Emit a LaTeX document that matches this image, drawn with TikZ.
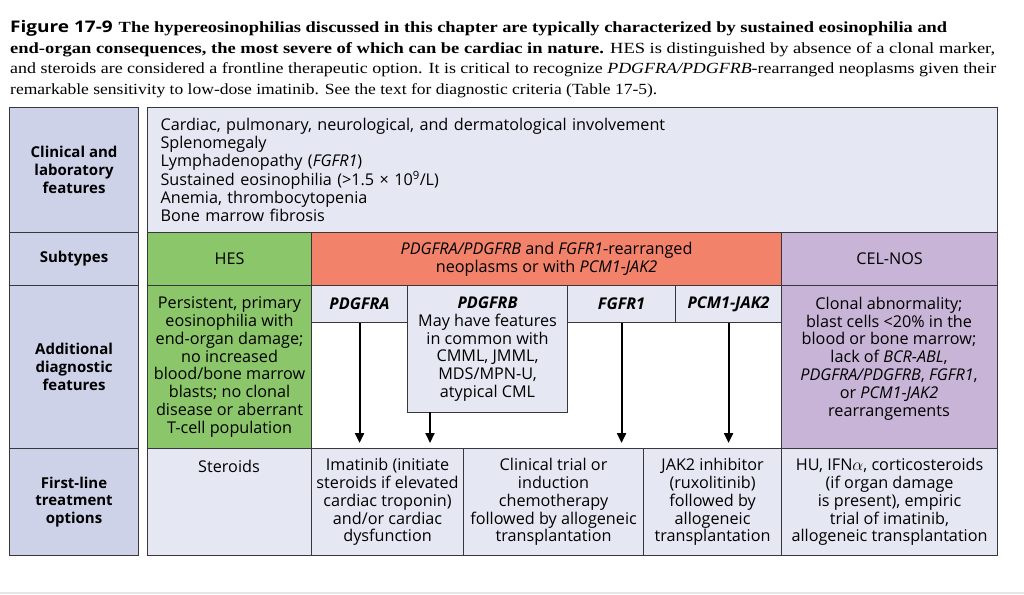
\documentclass[tikz,border=0pt]{standalone}
\usepackage{fontspec}
\setmainfont{Liberation Serif}
\setsansfont{Open Sans}
\usetikzlibrary{arrows.meta}
\definecolor{labbg}{RGB}{205,210,232}
\definecolor{conbg}{RGB}{229,232,243}
\definecolor{hesg}{RGB}{140,198,106}
\definecolor{orng}{RGB}{243,130,107}
\definecolor{purp}{RGB}{200,180,214}
\definecolor{bord}{RGB}{55,55,60}
\newcommand{\capline}[2]{\resizebox{#1}{\height}{#2}}
\newcommand{\tabfont}{\sffamily\fontsize{16.2}{17.8}\selectfont}
\newcommand{\labfont}{\sffamily\bfseries\fontsize{15}{17.8}\selectfont}
\newcommand{\capfont}{\rmfamily\fontsize{15.5}{18}\selectfont}
\begin{document}
\begin{tikzpicture}[x=1pt,y=-1pt,
  cell/.style={draw=bord, line width=1.1pt, inner sep=0pt, anchor=north west, align=center, font=\tabfont},
  labcell/.style={cell, fill=labbg, minimum width=129pt, font=\labfont},
  hdr/.style={cell, fill=conbg, minimum height=37pt, font=\tabfont\bfseries\itshape},
  txt/.style={inner sep=0pt, align=center, font=\tabfont},
  capt/.style={anchor=base west, inner sep=0pt},
  arr/.style={-{Triangle[length=10pt,width=9pt]}, line width=2pt, black, shorten >=5pt}]
\useasboundingbox (0,0) rectangle (1024,594);
\fill[white] (0,0) rectangle (1024,594);
\fill[black!10] (0,592) rectangle (1024,594);

% caption
\node[capt] (cap1) at (10,33) {\capline{937pt}{\capfont\textsf{\bfseries\fontsize{16}{18}\selectfont Figure 17-9}\hspace{5pt}\bfseries The hypereosinophilias discussed in this chapter are typically characterized by sustained eosinophilia and}};
\node[capt] (cap2) at (10,53.5) {\capline{985pt}{\capfont\textbf{end-organ consequences, the most severe of which can be cardiac in nature.} HES is distinguished by absence of a clonal marker,}};
\node[capt] (cap3) at (10,74) {\capline{986pt}{\capfont and steroids are considered a frontline therapeutic option. It is critical to recognize \textit{PDGFRA/PDGFRB}-rearranged neoplasms given their}};
\node[capt] (cap4) at (10,94) {\capline{647pt}{\capfont remarkable sensitivity to low-dose imatinib. See the text for diagnostic criteria (Table 17-5).}};

% label column
\node[labcell, minimum height=125pt] (lab1) at (9,107) {Clinical and\\laboratory\\features};
\node[labcell, minimum height=53pt] (lab2) at (9,232) {Subtypes};
\node[labcell, minimum height=163pt] (lab3) at (9,285) {Additional\\diagnostic\\features};
\node[labcell, minimum height=107pt] (lab4) at (9,448) {First-line\\treatment\\options};

% row 1
\node[cell, fill=conbg, text width=824pt, inner xsep=13pt, align=left, minimum height=125pt] (clin) at (147,107)
 {Cardiac, pulmonary, neurological, and dermatological involvement\\Splenomegaly\\Lymphadenopathy (\textit{FGFR1})\\Sustained eosinophilia (>1.5 × 10\textsuperscript{9}/L)\\Anemia, thrombocytopenia\\Bone marrow fibrosis};

% row 2
\node[cell, fill=hesg, minimum width=164pt, minimum height=53pt] (hes) at (147,232) {HES};
\node[cell, fill=orng, minimum width=470pt, minimum height=53pt] (rearr) at (311,232) {\textit{PDGFRA/PDGFRB} and \textit{FGFR1}-rearranged\\neoplasms or with \textit{PCM1-JAK2}};
\node[cell, fill=purp, minimum width=216pt, minimum height=53pt] (cel) at (781,232) {CEL-NOS};

% row 3
\node[cell, fill=hesg, minimum width=164pt, minimum height=163pt] (hesdx) at (147,285) {Persistent, primary\\eosinophilia with\\end-organ damage;\\no increased\\blood/bone marrow\\blasts; no clonal\\disease or aberrant\\T-cell population};
\node[cell, fill=white, minimum width=470pt, minimum height=163pt] (mid) at (311,285) {};
\node[hdr, minimum width=96pt] (pdgfra) at (311,285) {PDGFRA};
\node[hdr, minimum width=108pt] (fgfr1) at (567,285) {FGFR1};
\node[hdr, minimum width=106pt] (pcm) at (675,285) {PCM1-JAK2};
\node[cell, fill=conbg, minimum width=160pt, minimum height=127pt] (pdgfrb) at (407,285) {\textbf{\textit{PDGFRB}}\\May have features\\in common with\\CMML, JMML,\\MDS/MPN-U,\\atypical CML};
\node[cell, fill=purp, minimum width=216pt, minimum height=163pt] (celdx) at (781,285) {};
\node[txt] (celdxt) at (889,358.5) {Clonal abnormality;\\blast cells <20\% in the\\blood or bone marrow;\\lack of \textit{BCR-ABL},\\\textit{PDGFRA/PDGFRB}, \textit{FGFR1},\\or \textit{PCM1-JAK2}\\rearrangements};

% row 4
\node[cell, fill=conbg, minimum width=164pt, minimum height=107pt] (ster) at (147,448) {};
\node[txt] (stertxt) at (229,466) {Steroids};
\node[cell, fill=conbg, minimum width=152pt, minimum height=107pt] (imat) at (311,448) {Imatinib (initiate\\steroids if elevated\\cardiac troponin)\\and/or cardiac\\dysfunction};
\node[cell, fill=conbg, minimum width=180pt, minimum height=107pt] (clintr) at (463,448) {Clinical trial or\\induction\\chemotherapy\\followed by allogeneic\\transplantation};
\node[cell, fill=conbg, minimum width=138pt, minimum height=107pt] (jak) at (643,448) {JAK2 inhibitor\\(ruxolitinib)\\followed by\\allogeneic\\transplantation};
\node[cell, fill=conbg, minimum width=216pt, minimum height=107pt] (hu) at (781,448) {HU, IFN$\alpha$, corticosteroids\\(if organ damage\\is present), empiric\\trial of imatinib,\\allogeneic transplantation};

% arrows
\coordinate (pbx) at (430,412);
\draw[arr] (pdgfra.south) -- (pdgfra.south |- imat.north);
\draw[arr] (pbx) -- (pbx |- imat.north);
\draw[arr] (fgfr1.south) -- (fgfr1.south |- clintr.north);
\draw[arr] (pcm.south) -- (pcm.south |- jak.north);
\end{tikzpicture}
\end{document}
